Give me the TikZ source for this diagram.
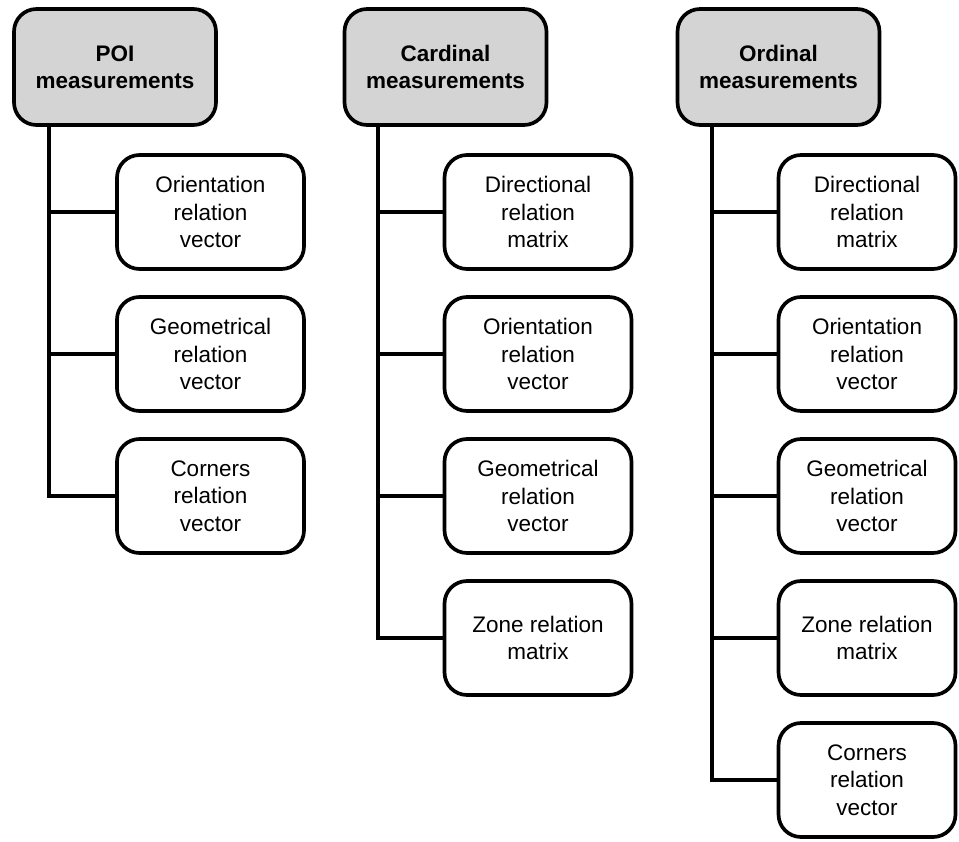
\documentclass[tikz,border=0pt]{standalone}
\usepackage{fontspec}
\setmainfont{Liberation Sans}
\begin{document}
\begin{tikzpicture}[x = 0.02cm, y = -0.02cm,
  head/.style = {draw, line width = 2.1pt, rounded corners = 0.45cm, fill = black!17,
    minimum width = 4.04cm, minimum height = 2.32cm, inner sep = 0pt, align = center,
    font = \fontsize{12.8}{15.6}\selectfont\bfseries},
  item/.style = {draw, line width = 2.1pt, rounded corners = 0.45cm, fill = white,
    minimum width = 3.74cm, minimum height = 2.28cm, inner sep = 0pt, align = center,
    font = \fontsize{12.8}{15.6}\selectfont},
  link/.style = {line width = 1.9pt}]
\useasboundingbox (0,0) rectangle (959,841);
% POI column
\node[head] at (115,67) (poi) {POI\\measurements};
\node[item] at (210.5,212) (poi1) {Orientation\\relation\\vector};
\node[item] at (210.5,354) (poi2) {Geometrical\\relation\\vector};
\node[item] at (210.5,496) (poi3) {Corners\\relation\\vector};
\coordinate (poibus) at (49,0);
\draw[link] (poibus |- poi.south) |- (poi3.west);
\draw[link] (poibus |- poi1.west) -- (poi1.west);
\draw[link] (poibus |- poi2.west) -- (poi2.west);
% Cardinal column
\node[head] at (445.5,67) (card) {Cardinal\\measurements};
\node[item] at (538,212) (card1) {Directional\\relation\\matrix};
\node[item] at (538,354) (card2) {Orientation\\relation\\vector};
\node[item] at (538,496) (card3) {Geometrical\\relation\\vector};
\node[item] at (538,638) (card4) {Zone relation\\matrix};
\coordinate (cardbus) at (378,0);
\draw[link] (cardbus |- card.south) |- (card4.west);
\draw[link] (cardbus |- card1.west) -- (card1.west);
\draw[link] (cardbus |- card2.west) -- (card2.west);
\draw[link] (cardbus |- card3.west) -- (card3.west);
% Ordinal column
\node[head] at (778.5,67) (ord) {Ordinal\\measurements};
\node[item, minimum width = 3.54cm] at (867,212) (ord1) {Directional\\relation\\matrix};
\node[item, minimum width = 3.54cm] at (867,354) (ord2) {Orientation\\relation\\vector};
\node[item, minimum width = 3.54cm] at (867,496) (ord3) {Geometrical\\relation\\vector};
\node[item, minimum width = 3.54cm] at (867,638) (ord4) {Zone relation\\matrix};
\node[item, minimum width = 3.54cm] at (867,780) (ord5) {Corners\\relation\\vector};
\coordinate (ordbus) at (712,0);
\draw[link] (ordbus |- ord.south) |- (ord5.west);
\draw[link] (ordbus |- ord1.west) -- (ord1.west);
\draw[link] (ordbus |- ord2.west) -- (ord2.west);
\draw[link] (ordbus |- ord3.west) -- (ord3.west);
\draw[link] (ordbus |- ord4.west) -- (ord4.west);
\end{tikzpicture}
\end{document}
